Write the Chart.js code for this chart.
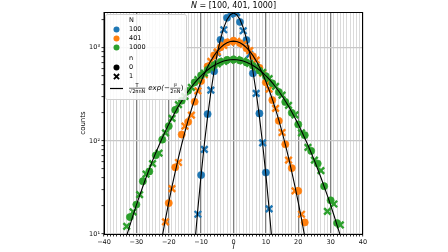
<!DOCTYPE html>
<html>
<head>
<meta charset="utf-8">
<script src="https://cdn.jsdelivr.net/npm/chart.js@4.4.1/dist/chart.umd.min.js"></script>
<style>
  html, body { margin: 0; padding: 0; background: #fff; }
  #grafico { display: block; }
</style>
</head>
<body>
<canvas id="grafico" width="448" height="252"></canvas>
<script>
// series: counts per l, one array per N
function range(a, b) {
  const out = [];
  for (let i = a; i <= b; i++) out.push(i);
  return out;
}

const sizesN = [100, 401, 1000];
const colors = ["#1f77b4", "#ff7f0e", "#2ca02c"];

const l100 = range(-11, 11);
const counts100 = [16.3, 43, 81, 194, 351, 560, 880, 1219, 1560, 2100, 2300, 2350,
  2380, 1890, 1523, 1210, 850, 531, 324, 197, 95, 45.7, 18.6];

const l401 = range(-21, 22);
const counts401 = [13.5, 21.5, 30.7, 52, 58.6, 117, 144, 160, 189, 263, 345, 440,
  515, 630, 715, 830, 905, 1010, 1060, 1140, 1150, 1190, 1170, 1120, 1090, 990,
  930, 810, 735, 610, 535, 425, 360, 274, 223, 164, 123, 92, 62, 51, 29, 29,
  16.3, 13.3];

const l1000 = range(-33, 33);
const counts1000 = [12.1, 15.2, 17.3, 20.7, 26.5, 36.9, 44, 47, 57, 70, 74, 103,
  122, 144, 174, 215, 245, 270, 300, 345, 375, 425, 455, 505, 535, 580, 610, 650,
  670, 705, 715, 740, 735, 750, 745, 730, 725, 695, 680, 640, 620, 570, 545, 495,
  465, 415, 385, 335, 310, 262, 240, 200, 190, 150, 122, 115, 85, 78, 62, 57, 48,
  32.6, 17.5, 23, 21, 13.1, 12.5];

// black reference curves
const curveL100 = range(-13, 13);
const curve100 = [2.6, 7.5, 18.7, 43.2, 92.5, 182, 333, 559, 868, 1244, 1647, 2011,
  2267, 2360, 2267, 2011, 1647, 1244, 868, 559, 333, 182, 92.5, 43.2, 18.7, 7.5, 2.6];

const curveL401 = range(-23, 23);
const curve401 = [6.0, 9.4, 14.5, 21.8, 32.2, 46.5, 66.0, 91.7, 125, 167, 218, 280,
  352, 434, 525, 622, 723, 823, 918, 1004, 1077, 1132, 1166, 1178, 1166, 1132, 1077,
  1004, 918, 823, 723, 622, 525, 434, 352, 280, 218, 167, 125, 91.7, 66.0, 46.5,
  32.2, 21.8, 14.5, 9.4, 6.0];

const curveL1000 = range(-35, 35);
const curve1000 = [5.6, 7.3, 9.6, 12.4, 16.0, 20.4, 25.8, 32.4, 40.4, 49.9, 61.3,
  74.5, 89.9, 107.5, 128, 151, 176, 204, 235, 268, 303, 341, 379, 419, 460, 500,
  540, 577, 613, 646, 675, 700, 720, 734, 743, 746, 743, 734, 720, 700, 675, 646,
  613, 577, 540, 500, 460, 419, 379, 341, 303, 268, 235, 204, 176, 151, 128, 107.5,
  89.9, 74.5, 61.3, 49.9, 40.4, 32.4, 25.8, 20.4, 16.0, 12.4, 9.6, 7.3, 5.6];

const xMajorTicks = [-40, -30, -20, -10, 0, 10, 20, 30, 40];
const yMajorTicks = [10, 100, 1000];
const yTickLabels = ["10\u00b9", "10\u00b2", "10\u00b3"];

const FONT = "DejaVu Sans";

function pontos(ls, cs, paridade) {
  return ls
    .map((l, i) => ({ x: l, y: cs[i] }))
    .filter((p) => Math.abs(p.x) % 2 === paridade);
}

function curva(ls, cs) {
  return ls.map((l, i) => ({ x: l, y: cs[i] }));
}

const series = [
  [l100, counts100],
  [l401, counts401],
  [l1000, counts1000],
];
const curvas = [
  [curveL100, curve100],
  [curveL401, curve401],
  [curveL1000, curve1000],
];

const datasets = [];

curvas.forEach(([ls, cs], k) => {
  datasets.push({
    label: "curve " + sizesN[k],
    data: curva(ls, cs),
    showLine: true,
    borderColor: "#000",
    borderWidth: 1.1,
    pointRadius: 0,
    order: 0,
  });
});

// green on top of orange on top of blue, crosses over circles
series.forEach(([ls, cs], k) => {
  const base = 10 - k * 3;
  datasets.push({
    label: sizesN[k] + " n=1",
    data: pontos(ls, cs, 1),
    pointStyle: "crossRot",
    pointRadius: 4.6,
    borderWidth: 2.4,
    borderColor: colors[k],
    backgroundColor: colors[k],
    order: base,
  });
  datasets.push({
    label: sizesN[k] + " n=0",
    data: pontos(ls, cs, 0),
    pointStyle: "circle",
    pointRadius: 3.6,
    borderWidth: 0.6,
    borderColor: colors[k],
    backgroundColor: colors[k],
    order: base + 1,
  });
});

function desenharX(ctx, x, y, r, cor, lw) {
  ctx.save();
  ctx.strokeStyle = cor;
  ctx.lineWidth = lw;
  ctx.beginPath();
  ctx.moveTo(x - r, y - r);
  ctx.lineTo(x + r, y + r);
  ctx.moveTo(x - r, y + r);
  ctx.lineTo(x + r, y - r);
  ctx.stroke();
  ctx.restore();
}

function desenharPonto(ctx, x, y, r, cor) {
  ctx.save();
  ctx.fillStyle = cor;
  ctx.beginPath();
  ctx.arc(x, y, r, 0, Math.PI * 2);
  ctx.fill();
  ctx.restore();
}

function fracao(ctx, cx, cy, num, den, size) {
  ctx.font = size + "px '" + FONT + "'";
  ctx.textAlign = "center";
  ctx.textBaseline = "alphabetic";
  const w = Math.max(ctx.measureText(num).width, ctx.measureText(den).width);
  ctx.fillText(num, cx, cy - 1.3);
  ctx.fillText(den, cx, cy + size * 0.85);
  ctx.lineWidth = 0.6;
  ctx.beginPath();
  ctx.moveTo(cx - w / 2, cy - 0.3);
  ctx.lineTo(cx + w / 2, cy - 0.3);
  ctx.stroke();
  return w;
}

const extras = {
  id: "extras",
  afterDatasetsDraw(chart) {
    const { ctx, chartArea: a } = chart;
    ctx.save();
    ctx.strokeStyle = "#000";
    ctx.lineWidth = 1;
    ctx.strokeRect(a.left + 0.5, a.top + 0.5, a.right - a.left - 1, a.bottom - a.top);
    ctx.restore();
  },
  afterDraw(chart) {
    const { ctx, chartArea: a } = chart;
    const cx = (a.left + a.right) / 2;
    ctx.save();
    ctx.fillStyle = "#000";
    ctx.strokeStyle = "#000";

    // title
    ctx.textBaseline = "middle";
    ctx.font = "italic 8px '" + FONT + "'";
    const tN = "N";
    const resto = " = [100, 401, 1000]";
    const wN = ctx.measureText(tN).width;
    ctx.font = "8px '" + FONT + "'";
    const wR = ctx.measureText(resto).width;
    let x0 = cx - (wN + wR) / 2;
    ctx.textAlign = "left";
    ctx.font = "italic 8px '" + FONT + "'";
    ctx.fillText(tN, x0, 5.5);
    ctx.font = "8px '" + FONT + "'";
    ctx.fillText(resto, x0 + wN, 5.5);

    // axis labels
    ctx.textAlign = "center";
    ctx.font = "italic 7.5px '" + FONT + "'";
    ctx.fillText("l", cx, 247.5);
    ctx.save();
    ctx.translate(83, (a.top + a.bottom) / 2);
    ctx.rotate(-Math.PI / 2);
    ctx.font = "7px '" + FONT + "'";
    ctx.fillText("counts", 0, 0);
    ctx.restore();

    // legend
    const bx = 105.5, by = 14.5, bw = 81, bh = 85;
    ctx.save();
    ctx.fillStyle = "rgba(255,255,255,0.85)";
    ctx.strokeStyle = "#d0d0d0";
    ctx.lineWidth = 1;
    ctx.beginPath();
    ctx.roundRect(bx, by, bw, bh, 2);
    ctx.fill();
    ctx.stroke();
    ctx.restore();

    const hx = 116.5, tx = 129;
    ctx.font = "6.5px '" + FONT + "'";
    ctx.textAlign = "left";
    ctx.textBaseline = "middle";
    ctx.fillText("N", tx, 20);
    const linhas = [29.6, 38.6, 47.6];
    sizesN.forEach((n, k) => {
      desenharPonto(ctx, hx, linhas[k], 3, colors[k]);
      ctx.fillStyle = "#000";
      ctx.fillText(String(n), tx, linhas[k]);
    });
    ctx.fillText("n", tx, 58.5);
    desenharPonto(ctx, hx, 67.6, 3, "#000");
    ctx.fillText("0", tx, 67.6);
    desenharX(ctx, hx, 76.6, 2.6, "#000", 1.8);
    ctx.fillText("1", tx, 76.6);

    // formula row
    ctx.lineWidth = 1.2;
    ctx.beginPath();
    ctx.moveTo(110, 88.5);
    ctx.lineTo(123, 88.5);
    ctx.stroke();
    const fy = 88.5;
    const w1 = fracao(ctx, 0, -100, "T", "\u221a2\u03c0nN", 5);
    fracao(ctx, tx + w1 / 2, fy, "T", "\u221a2\u03c0nN", 5);
    let px = tx + w1 + 3;
    ctx.font = "italic 7px '" + FONT + "'";
    ctx.textAlign = "left";
    ctx.textBaseline = "middle";
    ctx.fillText("exp(\u2212", px, fy);
    px += ctx.measureText("exp(\u2212").width + 0.5;
    const w2 = fracao(ctx, 0, -100, "l\u00b2", "2nN", 5);
    fracao(ctx, px + w2 / 2, fy, "l\u00b2", "2nN", 5);
    px += w2 + 0.5;
    ctx.font = "7px '" + FONT + "'";
    ctx.textAlign = "left";
    ctx.textBaseline = "middle";
    ctx.fillText(")", px, fy);

    ctx.restore();
  },
};

const minorX = range(-40, 40);
const minorY = [];
[10, 100, 1000].forEach((d) => {
  for (let m = 1; m < 10; m++) {
    if (d * m <= 2420) minorY.push(d * m);
  }
});

const grafico = new Chart(document.getElementById("grafico"), {
  type: "scatter",
  data: { datasets: datasets },
  plugins: [extras],
  options: {
    responsive: false,
    animation: false,
    devicePixelRatio: 1,
    layout: { padding: { left: 0, right: 85, top: 12, bottom: 0 } },
    plugins: {
      legend: { display: false },
      tooltip: { enabled: false },
      title: { display: false },
    },
    scales: {
      x: {
        type: "linear",
        min: -40,
        max: 40,
        afterBuildTicks: (s) => {
          s.ticks = minorX.map((v) => ({ value: v }));
        },
        afterFit: (s) => {
          s.height = 18;
        },
        border: { display: false },
        grid: {
          color: (c) => (c.tick && xMajorTicks.includes(c.tick.value) ? "#808080" : "#d6d6d6"),
          lineWidth: (c) => (c.tick && xMajorTicks.includes(c.tick.value) ? 1.3 : 0.9),
          tickColor: "#000",
          tickLength: 2.5,
          tickWidth: 0.8,
        },
        ticks: {
          autoSkip: false,
          maxRotation: 0,
          padding: 1.5,
          color: "#111",
          font: { family: FONT, size: 6.5 },
          callback: (v) => {
            if (!xMajorTicks.includes(v)) return "";
            return v < 0 ? "\u2212" + -v : String(v);
          },
        },
      },
      y: {
        type: "logarithmic",
        min: 10,
        max: 2420,
        afterBuildTicks: (s) => {
          s.ticks = minorY.map((v) => ({ value: v }));
        },
        afterFit: (s) => {
          s.width = 104;
        },
        border: { display: false },
        grid: {
          color: (c) => (c.tick && yMajorTicks.includes(c.tick.value) ? "#c8c8c8" : "rgba(0,0,0,0)"),
          lineWidth: 1.2,
          tickColor: "#000",
          tickLength: 2.5,
          tickWidth: 0.8,
        },
        ticks: {
          autoSkip: false,
          padding: 1.5,
          color: "#111",
          font: { family: FONT, size: 6.5 },
          callback: (v) => {
            const i = yMajorTicks.indexOf(v);
            return i >= 0 ? yTickLabels[i] : "";
          },
        },
      },
    },
  },
});
</script>
</body>
</html>
